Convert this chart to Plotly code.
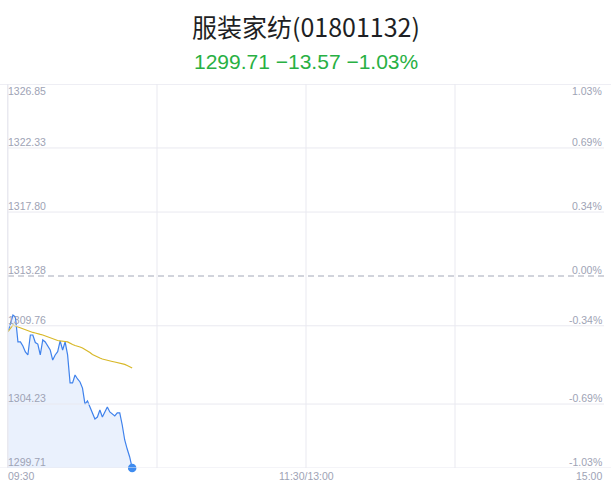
import plotly.graph_objects as go

# ---- data ----
minutes = list(range(51))
price = [1309.34, 1309.89, 1310.52, 1310.38, 1308.62, 1308.62, 1308.33, 1307.91, 1307.70, 1309.11,
         1309.11, 1308.58, 1308.47, 1307.70, 1308.76, 1308.62, 1308.33, 1308.05, 1307.34, 1307.70,
         1307.93, 1308.69, 1308.05, 1308.62, 1307.70, 1305.72, 1305.72, 1306.28, 1306.00, 1305.79,
         1305.36, 1304.23, 1304.45, 1304.02, 1303.60, 1303.17, 1303.31, 1303.81, 1303.31, 1303.67,
         1304.02, 1303.67, 1303.53, 1303.39, 1303.60, 1303.60, 1302.75, 1301.69, 1301.05, 1300.49,
         1299.71]
avg_price = [1309.34, 1309.60, 1309.82, 1309.75, 1309.68, 1309.60, 1309.53, 1309.46, 1309.39, 1309.32,
             1309.29, 1309.25, 1309.18, 1309.15, 1309.11, 1309.04, 1308.97, 1308.90, 1308.83, 1308.76,
             1308.72, 1308.69, 1308.69, 1308.65, 1308.62, 1308.51, 1308.44, 1308.37, 1308.33, 1308.26,
             1308.19, 1308.09, 1307.98, 1307.87, 1307.73, 1307.63, 1307.56, 1307.48, 1307.41, 1307.38,
             1307.34, 1307.27, 1307.24, 1307.20, 1307.17, 1307.13, 1307.10, 1307.03, 1306.95, 1306.88,
             1306.78]
price_ticks = [1326.85, 1322.33, 1317.80, 1313.28, 1309.76, 1304.23, 1299.71]
price_labels = ["1326.85", "1322.33", "1317.80", "1313.28", "1309.76", "1304.23", "1299.71"]
pct_labels = ["1.03%", "0.69%", "0.34%", "0.00%", "-0.34%", "-0.69%", "-1.03%"]
time_ticks = [0, 120, 240]
time_labels = ["09:30", "11:30/13:00", "15:00"]
prev_close = 1313.28
title_text = "服装家纺(01801132)"
sub_text = "1299.71 \u221213.57 \u22121.03%"

ymin, ymax = price_ticks[-1], price_ticks[0]
W, H = 611, 492
ml, mr, mt, mb = 8, 7, 84, 24
pw = W - ml - mr
ph = H - mt - mb

label_color = "#9ea3b5"
grid_color = "#e9e9f0"
font_lbl = "'Liberation Sans', Arial, sans-serif"

fig = go.Figure()
fig.add_trace(go.Scatter(x=minutes, y=price, mode="lines",
                         line=dict(color="#3f82ec", width=1.2),
                         fill="tozeroy", fillcolor="rgba(63,130,236,0.11)",
                         hoverinfo="skip", showlegend=False))
fig.add_trace(go.Scatter(x=minutes, y=avg_price, mode="lines",
                         line=dict(color="#d8b828", width=1.2),
                         hoverinfo="skip", showlegend=False))
fig.add_trace(go.Scatter(x=[minutes[-1]], y=[price[-1]], mode="markers",
                         marker=dict(color="#3f8cf0", size=8.5),
                         hoverinfo="skip", showlegend=False, cliponaxis=False))

shapes = []
for i, v in enumerate(price_ticks):
    if v == prev_close:
        shapes.append(dict(type="line", xref="paper", yref="y", x0=0, x1=1, y0=v, y1=v,
                           line=dict(color="#a3a8b8", width=1, dash="6px,4px")))
    elif i == 0 or i == len(price_ticks) - 1:
        shapes.append(dict(type="line", xref="paper", yref="y", x0=-ml / pw, x1=1 + mr / pw, y0=v, y1=v,
                           line=dict(color=grid_color, width=1.5 if i == 0 else 1)))
    else:
        shapes.append(dict(type="line", xref="paper", yref="y", x0=0, x1=1, y0=v, y1=v,
                           line=dict(color=grid_color, width=1)))
for xv in [0, 60, 120, 180]:
    shapes.append(dict(type="line", xref="x", yref="paper", x0=xv, x1=xv, y0=0, y1=1,
                       line=dict(color=grid_color, width=1)))

annotations = []
for i, (v, pl, cl) in enumerate(zip(price_ticks, price_labels, pct_labels)):
    ya = "top" if i == 0 else "bottom"
    ys = 1 if i == 0 else -2
    annotations.append(dict(x=0, xref="paper", y=v, yref="y", text=pl, showarrow=False,
                            xanchor="left", yanchor=ya, yshift=ys, xshift=-2,
                            font=dict(size=10.5, color=label_color, family=font_lbl)))
    annotations.append(dict(x=1, xref="paper", y=v, yref="y", text=cl, showarrow=False,
                            xanchor="right", yanchor=ya, yshift=ys, xshift=0,
                            font=dict(size=10.5, color=label_color, family=font_lbl)))
for j, (tv, tl) in enumerate(zip(time_ticks, time_labels)):
    xa = ["left", "center", "right"][j]
    xs = [-2, 0, 0][j]
    annotations.append(dict(x=tv, xref="x", y=0, yref="paper", text=tl, showarrow=False,
                            xanchor=xa, yanchor="top", yshift=0, xshift=xs,
                            font=dict(size=10.5, color=label_color, family=font_lbl)))
annotations.append(dict(x=0.5, xref="paper", y=(H - mb - 26) / ph, yref="paper", text=title_text,
                        showarrow=False, xanchor="center", yanchor="middle",
                        font=dict(size=25, color="#1e1f24", family="'Noto Sans CJK SC', sans-serif")))
annotations.append(dict(x=0.5, xref="paper", y=(H - mb - 61) / ph, yref="paper", text=sub_text,
                        showarrow=False, xanchor="center", yanchor="middle",
                        font=dict(size=21, color="#28b043", family="'Liberation Sans', Arial, sans-serif")))

fig.update_layout(
    width=W, height=H,
    margin=dict(l=ml, r=mr, t=mt, b=mb),
    paper_bgcolor="white", plot_bgcolor="white",
    xaxis=dict(range=[0, 240], showgrid=False, zeroline=False, showticklabels=False,
               showline=False, fixedrange=True),
    yaxis=dict(range=[ymin, ymax], showgrid=False, zeroline=False, showticklabels=False,
               showline=True, linecolor=grid_color, linewidth=1, mirror=False, fixedrange=True),
    shapes=shapes, annotations=annotations,
)

fig.write_html("out.html", config={"displayModeBar": False},
               post_script="document.body.style.margin='0';document.body.style.overflow='hidden';")
